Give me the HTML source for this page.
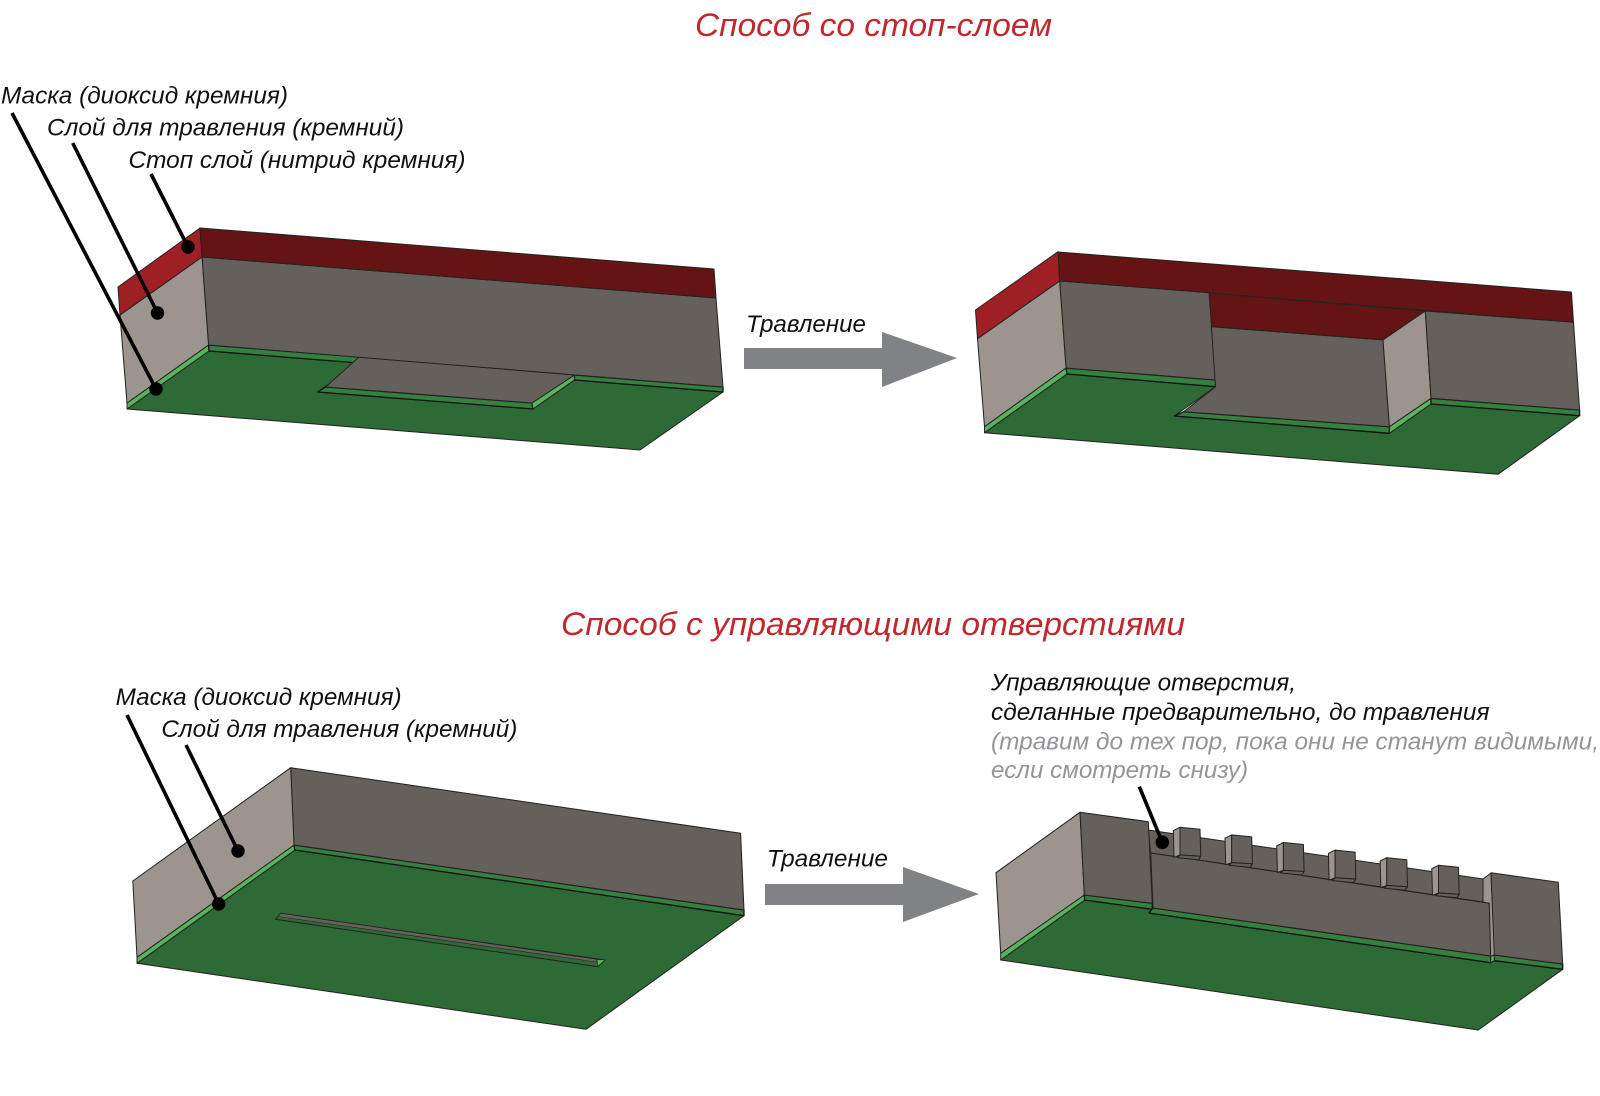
<!DOCTYPE html>
<html lang="ru">
<head>
<meta charset="utf-8">
<title>Способы травления</title>
<style>
html,body{margin:0;padding:0;background:#fff;width:1600px;height:1096px;overflow:hidden}
svg{display:block;filter:blur(.35px)}
text{font-family:"Liberation Sans",sans-serif;font-style:italic;fill:#111}
.t{font-size:32px;fill:#c1272d}
.l{font-size:24px}
.g{fill:#939598}
.f polygon{stroke:#222;stroke-width:1;stroke-linejoin:round}
.f polygon.mg{stroke:#111;stroke-width:1.3}
.dr{fill:#651414}.lr{fill:#9e2024}.dg{fill:#65605b}.lg{fill:#9c958d}
.gr{fill:#2d6a35}.mg{fill:#35803f}.lt{fill:#57b45c}
.lead{stroke:#000;stroke-width:3.6;fill:none}
</style>
</head>
<body>
<svg width="1600" height="1096" viewBox="0 0 1600 1096" xmlns="http://www.w3.org/2000/svg">
<defs>
<g id="tooth" class="f">
<polygon class="lg" points="-6.7,3.3 0,0 0,27.7 -6,30"/>
<polygon class="dg" points="0,0 20,2 20.7,29 0,27.7"/>
<polygon class="dg" points="0,27.7 20.7,29 18.5,32.5 -2.5,30.5"/>
</g>
</defs>
<text class="t" x="695" y="36" textLength="357" lengthAdjust="spacingAndGlyphs">Способ со стоп-слоем</text>
<text class="t" x="561" y="635" textLength="624" lengthAdjust="spacingAndGlyphs">Способ с управляющими отверстиями</text>

<!-- Block 1 -->
<g class="f">
<polygon class="gr" points="127,409 209,351 359,363 317.5,392 533,409 574.4,380 723,392 640,450"/>
<polygon class="lt" points="127,403 208.5,345 209,351 127,409"/>
<polygon class="mg" points="208.5,345 359,357 359,363 209,351"/>
<polygon class="mg" points="574.4,375 723,387 723,392 574.4,380"/>
<polygon class="mg" points="325.7,387 532,403 533,409 317.5,392"/>
<polygon class="lt" points="532,403 574.4,375 574.4,380 533,409"/>
<polygon class="dg" points="359,357 574.4,375 532,403 325.7,387"/>
<polygon class="dg" points="202,257 716,298 723,387 208.5,345"/>
<polygon class="lg" points="120,315 202,257 208.5,345 127,403"/>
<polygon class="lr" points="118,287 200,228 202,257 120,315"/>
<polygon class="dr" points="200,228 714,269 716,298 202,257"/>
</g>
<path class="lead" d="M12 113L156 389M72.7 143L157.5 313M151 174L188 247"/>
<circle cx="156" cy="389" r="6.7"/><circle cx="157.5" cy="313" r="6.7"/><circle cx="188" cy="247" r="6.7"/>
<text class="l" x="1" y="103.5" textLength="287" lengthAdjust="spacingAndGlyphs">Маска (диоксид кремния)</text>
<text class="l" x="47" y="135.5" textLength="357" lengthAdjust="spacingAndGlyphs">Слой для травления (кремний)</text>
<text class="l" x="128.5" y="168" textLength="337" lengthAdjust="spacingAndGlyphs">Стоп слой (нитрид кремния)</text>

<!-- Arrow 1 -->
<text class="l" x="746" y="332" textLength="120" lengthAdjust="spacingAndGlyphs">Травление</text>
<polygon fill="#808285" points="744,348 882,348 882,332 957,358 882,387 882,369 744,369"/>

<!-- Block 2 -->
<g class="f">
<polygon class="gr" points="984.5,432.7 1067,374 1215.5,386.7 1174.3,416 1389.4,433.3 1431,404 1579.6,415.7 1498,474.3"/>
<polygon class="lt" points="984.5,426.7 1066,368 1067,374 984.5,432.7"/>
<polygon class="mg" points="1066,368 1215.5,380 1215.5,386.7 1067,374"/>
<polygon class="mg" points="1183.7,411.7 1389.4,426.7 1389.4,433.3 1174.3,416"/>
<polygon class="lt" points="1389.4,426.7 1431,398.3 1431,404 1389.4,433.3"/>
<polygon class="mg" points="1431,398.3 1579.6,410 1579.6,415.7 1431,404"/>
<polygon class="dr" points="1058,252 1571.4,292 1573.5,322.3 1059.6,281"/>
<polygon class="dr" points="1209,293 1425,311 1383,340 1211.4,326.7"/>
<polygon class="dg" points="1059.6,281 1209,292.7 1215.5,380 1066,368"/>
<polygon class="lg" points="977.5,338.7 1059.6,281 1066,368 984.5,426.7"/>
<polygon class="dg" points="1211.4,326.7 1383,340 1389.4,426.7 1183.7,411.7 1215.5,386.7"/>
<polygon class="lg" points="1383,340 1425.3,311 1431,398.3 1389.4,426.7"/>
<polygon class="dg" points="1425.3,311 1573.5,322.3 1579.6,410 1431,398.3"/>
<polygon class="lr" points="975.5,310 1058,251.7 1059.6,281 977.5,338.7"/>
</g>

<!-- Block 3 -->
<g class="f">
<polygon class="gr" points="137,963.3 294.9,850 744,915.7 586,1029.3"/>
<polygon class="lt" points="137,957.3 294,845 294.9,850 137,963.3"/>
<polygon class="mg" points="294,845 744,910 744,915.7 294.9,850"/>
<polygon class="dg" points="290.7,767.7 740.6,833.3 744,910 294,845"/>
<polygon class="lg" points="132.8,881 290.7,767.7 294,845 137,957.3"/>
<polygon class="gr" points="281,913.3 605,960 598,966.7 275.5,919.3"/>
<polygon class="dg" points="281,913.3 598,959.5 596,962 278,916.5" style="stroke-width:.6"/>
<polygon class="lt" points="597,959.5 605,960 598,966" style="stroke-width:.5"/>
</g>
<path class="lead" d="M127 715L218.7 904M186 745L238 851"/>
<circle cx="218.7" cy="904" r="6.7"/><circle cx="238" cy="851" r="6.7"/>
<text class="l" x="115.6" y="705" textLength="286" lengthAdjust="spacingAndGlyphs">Маска (диоксид кремния)</text>
<text class="l" x="161.4" y="737" textLength="356" lengthAdjust="spacingAndGlyphs">Слой для травления (кремний)</text>

<!-- Arrow 2 -->
<text class="l" x="767" y="866.5" textLength="121" lengthAdjust="spacingAndGlyphs">Травление</text>
<polygon fill="#808285" points="765,884 903,884 903,867 979,894 903,922 903,905 765,905"/>

<!-- Block 4 -->
<g class="f">
<polygon class="gr" points="1000.7,960 1084.7,900 1152.3,909.3 1149,913 1490.7,962.7 1494.3,960.7 1562.7,969.3 1478.3,1030"/>
<polygon class="lt" points="1000.7,953.3 1084.3,895 1084.7,900 1000.7,960"/>
<polygon class="mg" points="1084.3,895 1152.3,903.3 1152.3,909.3 1084.7,900"/>
<polygon class="mg" points="1153,908 1490.7,956 1490.7,962.7 1149,913"/>
<polygon class="mg" points="1494.3,955 1562.7,964 1562.7,969.3 1494.3,960.7"/>
<polygon class="lt" points="1490.7,956 1494.3,955 1494.3,960.7 1490.7,962.7"/>
<polygon class="lg" points="996,872.7 1080,812.3 1084.3,895 1000.7,953.3"/>
<polygon class="dg" points="1148,830 1483,879 1483,902 1150.7,853"/>
<polygon class="dg" points="1080,812.3 1148.3,821.7 1152.3,903.3 1084.3,895"/>
<polygon class="dg" points="1150.7,853 1489.3,903.3 1490.7,956 1153,908"/>
<polygon class="lg" points="1483,879 1491,873 1495,955 1490.7,956 1489.3,903.3 1483,902"/>
<polygon class="dg" points="1491,872.7 1558.3,882.3 1562.7,964 1494.3,955"/>
</g>
<use href="#tooth" x="1180" y="827.3"/>
<use href="#tooth" x="1231.7" y="834.9"/>
<use href="#tooth" x="1283.4" y="842.5"/>
<use href="#tooth" x="1335.1" y="850.1"/>
<use href="#tooth" x="1386.8" y="857.7"/>
<use href="#tooth" x="1438.5" y="865.3"/>
<path class="lead" d="M1139.3 786.7L1162.3 842.3"/>
<circle cx="1162.3" cy="842.3" r="6.8"/>
<text class="l" x="991" y="690.7" textLength="305" lengthAdjust="spacingAndGlyphs">Управляющие отверстия,</text>
<text class="l" x="991" y="720" textLength="498.5" lengthAdjust="spacingAndGlyphs">сделанные предварительно, до травления</text>
<text class="l g" x="991" y="749.3" textLength="608" lengthAdjust="spacingAndGlyphs">(травим до тех пор, пока они не станут видимыми,</text>
<text class="l g" x="991" y="778" textLength="257" lengthAdjust="spacingAndGlyphs">если смотреть снизу)</text>
</svg>
</body>
</html>
